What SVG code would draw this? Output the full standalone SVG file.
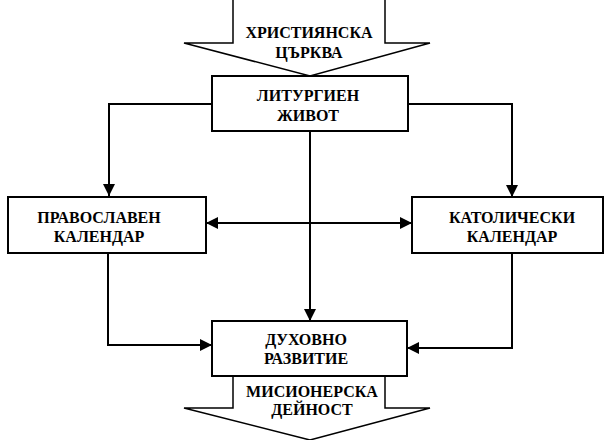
<svg xmlns="http://www.w3.org/2000/svg" width="605" height="440" viewBox="0 0 605 440">
<style>
.box{fill:#fff;stroke:#000;stroke-width:2}
.arr{fill:#fff;stroke:#000;stroke-width:1.5;stroke-linejoin:miter}
.con{fill:none;stroke:#000;stroke-width:2}
text{font-family:"Liberation Serif","Times New Roman",serif;font-weight:bold;font-size:16px;text-anchor:middle;fill:#000}
</style>
<defs>
<marker id="ah" markerUnits="userSpaceOnUse" markerWidth="12" markerHeight="12" viewBox="0 0 10 10" refX="10" refY="5" orient="auto-start-reverse">
<path d="M0,0 L10,5 L0,10 Z" fill="#000"/>
</marker>
</defs>
<g id="connectors">
<path class="con" d="M212,104 H109 V196" marker-end="url(#ah)"/>
<path class="con" d="M408,104 H512 V197" marker-end="url(#ah)"/>
<path class="con" d="M206,223 H412" marker-start="url(#ah)" marker-end="url(#ah)"/>
<path class="con" d="M310,131 V321" marker-end="url(#ah)"/>
<path class="con" d="M108,253 V345 H212" marker-end="url(#ah)"/>
<path class="con" d="M512,253 V348 H407" marker-end="url(#ah)"/>
</g>
<g id="church">
<path class="arr" d="M233,0 V43 H184 L310,76 L430,43 H385 V0"/>
<text x="309" y="38">ХРИСТИЯНСКА</text>
<text x="309" y="58">ЦЪРКВА</text>
</g>
<g id="liturgy">
<rect class="box" x="212" y="76" width="196" height="55"/>
<text x="308" y="101">ЛИТУРГИЕН</text>
<text x="308" y="121">ЖИВОТ</text>
</g>
<g id="orthodox">
<rect class="box" x="8" y="197" width="198" height="56"/>
<text x="99" y="223">ПРАВОСЛАВЕН</text>
<text x="99" y="242">КАЛЕНДАР</text>
</g>
<g id="catholic">
<rect class="box" x="412" y="197" width="191" height="56"/>
<text x="512" y="223">КАТОЛИЧЕСКИ</text>
<text x="512" y="242">КАЛЕНДАР</text>
</g>
<g id="spiritual">
<rect class="box" x="212" y="321" width="195" height="55"/>
<text x="306" y="345">ДУХОВНО</text>
<text x="306" y="364">РАЗВИТИЕ</text>
</g>
<g id="mission">
<path class="arr" d="M233,377 V408 H184 L310,440 L430,408 H385 V377"/>
<text x="312" y="397">МИСИОНЕРСКА</text>
<text x="312" y="415">ДЕЙНОСТ</text>
</g>
</svg>
